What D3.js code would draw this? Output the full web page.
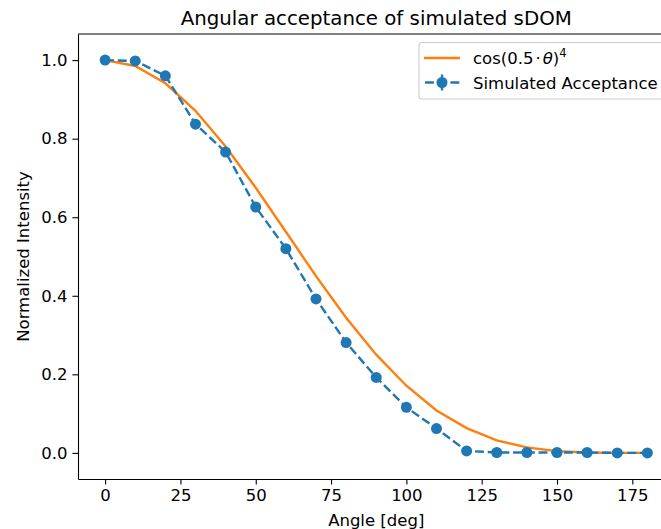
<!DOCTYPE html>
<html lang="en">
<head>
    <meta charset="UTF-8">
    <title>Angular acceptance of simulated sDOM</title>
    <script src="https://cdn.jsdelivr.net/npm/d3@7/dist/d3.min.js"></script>
    <style>
        body { margin: 0; background: #fff; }
        svg { display: block; font-family: "DejaVu Sans", sans-serif; }
    </style>
</head>
<body>
<script>
    // angles in degrees
    const angles = [0, 10, 20, 30, 40, 50, 60, 70, 80, 90, 100, 110, 120, 130, 140, 150, 160, 170, 180];
    // simulated acceptance (blue points)
    const simulated = [1.0, 0.998, 0.96, 0.837, 0.766, 0.626, 0.52, 0.392, 0.281, 0.192, 0.116, 0.062, 0.005, 0.001, 0.001, 0.001, 0.001, 0.0, 0.0];
    const simErr = [0.005, 0.005, 0.005, 0.005, 0.005, 0.005, 0.005, 0.005, 0.005, 0.005, 0.005, 0.005, 0.005, 0.005, 0.005, 0.005, 0.005, 0.005, 0.005];
    // cos(0.5*theta)^4
    const cosCurve = [1.0, 0.985, 0.941, 0.871, 0.78, 0.675, 0.563, 0.45, 0.344, 0.25, 0.171, 0.108, 0.063, 0.032, 0.014, 0.0045, 0.001, 0.0, 0.0];
    const xTicks = [0, 25, 50, 75, 100, 125, 150, 175];
    const yTicks = [0.0, 0.2, 0.4, 0.6, 0.8, 1.0];

    const width = 661, height = 529;
    const axLeft = 78, axRight = 674.5, axTop = 34, axBottom = 479;
    const blue = '#1f77b4', orange = '#ff7f0e';
    const fs = 16.5;

    const x = d3.scaleLinear().domain([-9, 189]).range([axLeft, axRight]);
    const y = d3.scaleLinear().domain([-0.0665, 1.0665]).range([axBottom, axTop]);

    const svg = d3.select('body').append('svg')
        .attr('width', width)
        .attr('height', height);

    // axes
    const xAxis = svg.append('g')
        .attr('transform', `translate(0,${axBottom})`)
        .call(d3.axisBottom(x).tickValues(xTicks).tickSize(5.6).tickSizeOuter(0).tickPadding(5));
    const yAxis = svg.append('g')
        .attr('transform', `translate(${axLeft},0)`)
        .call(d3.axisLeft(y).tickValues(yTicks).tickFormat(d3.format('.1f')).tickSize(5.6).tickSizeOuter(0).tickPadding(5));

    [xAxis, yAxis].forEach(g => {
        g.selectAll('text').attr('font-size', fs).attr('font-family', '"DejaVu Sans", sans-serif').attr('fill', '#000');
        g.selectAll('line').attr('stroke', '#000').attr('stroke-width', 1.1);
        g.select('.domain').attr('stroke', '#000').attr('stroke-width', 1.1);
    });

    // top spine (right one is outside the picture)
    svg.append('line')
        .attr('x1', axLeft).attr('x2', axRight)
        .attr('y1', axTop).attr('y2', axTop)
        .attr('stroke', '#000').attr('stroke-width', 1.1);

    const plot = svg.append('g');

    const line = d3.line().x(d => x(d[0])).y(d => y(d[1]));

    plot.append('path')
        .datum(angles.map((a, i) => [a, cosCurve[i]]))
        .attr('d', line)
        .attr('fill', 'none')
        .attr('stroke', orange)
        .attr('stroke-width', 2.4);

    const simData = angles.map((a, i) => [a, simulated[i], simErr[i]]);

    plot.append('path')
        .datum(simData)
        .attr('d', line)
        .attr('fill', 'none')
        .attr('stroke', blue)
        .attr('stroke-width', 2.4)
        .attr('stroke-dasharray', '8.9,3.8');

    plot.selectAll('line.err')
        .data(simData)
        .enter().append('line')
        .attr('class', 'err')
        .attr('x1', d => x(d[0])).attr('x2', d => x(d[0]))
        .attr('y1', d => y(d[1] - d[2])).attr('y2', d => y(d[1] + d[2]))
        .attr('stroke', blue).attr('stroke-width', 2.4);

    plot.selectAll('circle')
        .data(simData)
        .enter().append('circle')
        .attr('cx', d => x(d[0]))
        .attr('cy', d => y(d[1]))
        .attr('r', 5.5)
        .attr('fill', blue);

    // title and labels
    svg.append('text')
        .attr('x', (axLeft + axRight) / 2).attr('y', 25)
        .attr('text-anchor', 'middle')
        .attr('font-size', 19.8)
        .text('Angular acceptance of simulated sDOM');

    svg.append('text')
        .attr('x', (axLeft + axRight) / 2).attr('y', 526)
        .attr('text-anchor', 'middle')
        .attr('font-size', fs)
        .text('Angle [deg]');

    svg.append('text')
        .attr('transform', `translate(29,${(axTop + axBottom) / 2}) rotate(-90)`)
        .attr('text-anchor', 'middle')
        .attr('font-size', fs)
        .text('Normalized Intensity');

    // legend
    const legend = svg.append('g');
    legend.append('rect')
        .attr('x', 419).attr('y', 42.5)
        .attr('width', 250).attr('height', 56.5)
        .attr('rx', 3)
        .attr('fill', '#fff').attr('fill-opacity', 0.8)
        .attr('stroke', '#ccc').attr('stroke-width', 1.1);

    legend.append('line')
        .attr('x1', 424).attr('x2', 460)
        .attr('y1', 58).attr('y2', 58)
        .attr('stroke', orange).attr('stroke-width', 2.4);

    const t1 = legend.append('text')
        .attr('x', 473).attr('y', 64)
        .attr('font-size', fs);
    t1.append('tspan').text('cos(0.5');
    t1.append('tspan').text('\u00b7').attr('dx', 2);
    t1.append('tspan').text('\u03b8').attr('font-style', 'italic').attr('dx', 2);
    t1.append('tspan').text(')');
    t1.append('tspan').text('4').attr('font-size', 11.5).attr('dy', -7);

    legend.append('line')
        .attr('x1', 424).attr('x2', 460)
        .attr('y1', 82.5).attr('y2', 82.5)
        .attr('stroke', blue).attr('stroke-width', 2.4)
        .attr('stroke-dasharray', '8.9,3.8')
        .attr('stroke-dashoffset', -1);
    legend.append('line')
        .attr('x1', 442).attr('x2', 442)
        .attr('y1', 74.5).attr('y2', 90.5)
        .attr('stroke', blue).attr('stroke-width', 2.4);
    legend.append('circle')
        .attr('cx', 442).attr('cy', 82.5).attr('r', 5.5)
        .attr('fill', blue);

    legend.append('text')
        .attr('x', 473).attr('y', 88.5)
        .attr('font-size', fs)
        .text('Simulated Acceptance');
</script>
</body>
</html>
